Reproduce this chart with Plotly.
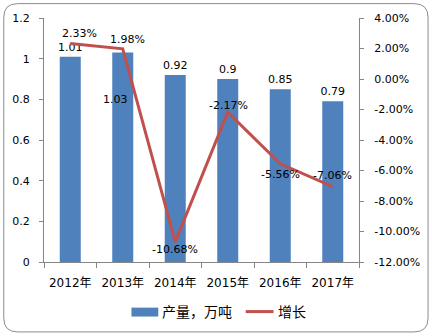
import plotly.graph_objects as go

# Annual output (10k tonnes) and year-on-year growth (%)
years = ["2012年", "2013年", "2014年", "2015年", "2016年", "2017年"]
output = [1.01, 1.03, 0.92, 0.9, 0.85, 0.79]
growth = [2.33, 1.98, -10.68, -2.17, -5.56, -7.06]

left_ticks = [0, 0.2, 0.4, 0.6, 0.8, 1.0, 1.2]
right_ticks = [4, 2, 0, -2, -4, -6, -8, -10, -12]

BAR_COLOR = "#4F81BD"
LINE_COLOR = "#C0504D"
AXIS_COLOR = "#868686"
FONT = "DejaVu Sans, Noto Sans CJK SC, sans-serif"

W, H = 432, 336
ML, MR, MT, MB = 42, 73, 16, 74
PW, PH = W - ML - MR, H - MT - MB


def px_x(p):
    return (p - ML) / PW


def px_y(p):
    return (H - MB - p) / PH


fig = go.Figure()

# Bars; the 2013 value label sits beside its bar, added as an annotation below
bar_text = [f"{v:g}" for v in output]
bar_text[1] = ""
fig.add_trace(go.Bar(
    x=years, y=output, width=0.4, marker=dict(color=BAR_COLOR, line=dict(width=0)),
    text=bar_text, textposition="outside", constraintext="none", cliponaxis=False,
    textfont=dict(family=FONT, size=11, color="#000000"),
    name="产量，万吨", showlegend=False, yaxis="y",
))

fig.add_trace(go.Scatter(
    x=years, y=growth, mode="lines", line=dict(color=LINE_COLOR, width=3),
    name="增长", showlegend=False, yaxis="y2", cliponaxis=False,
))

annotations = []
annotations.append(dict(
    x=years[1], y=0.8, xref="x", yref="y", xshift=-7,
    text=f"{output[1]:g}", showarrow=False,
    font=dict(family=FONT, size=11, color="#000000"),
))

# Growth labels: pixel offsets from each point
growth_label_shift = [(9, 10), (5, 9), (0, -8), (1, 7), (0, -11), (0, 11)]
for yr, g, (dx, dy) in zip(years, growth, growth_label_shift):
    annotations.append(dict(
        x=yr, y=g, xref="x", yref="y2", xshift=dx, yshift=dy,
        text=f"{g:.2f}%", showarrow=False,
        font=dict(family=FONT, size=11, color="#000000"),
    ))

# Legend drawn by hand: bar swatch, line swatch and their labels
legend_y = 312
shapes = [
    dict(type="rect", xref="paper", yref="paper",
         x0=px_x(130), x1=px_x(157), y0=px_y(308), y1=px_y(317),
         fillcolor=BAR_COLOR, line=dict(width=0)),
    dict(type="line", xref="paper", yref="paper",
         x0=px_x(245), x1=px_x(273), y0=px_y(legend_y), y1=px_y(legend_y),
         line=dict(color=LINE_COLOR, width=3)),
]
annotations.append(dict(
    x=px_x(159), y=px_y(legend_y), xref="paper", yref="paper",
    xanchor="left", yanchor="middle", text="产量，万吨", showarrow=False,
    font=dict(family=FONT, size=14, color="#000000"),
))
annotations.append(dict(
    x=px_x(275), y=px_y(legend_y), xref="paper", yref="paper",
    xanchor="left", yanchor="middle", text="增长", showarrow=False,
    font=dict(family=FONT, size=14, color="#000000"),
))

# Rounded outer frame
x0, x1, y0, y1, r = 1.5, 428.5, 1.5, 332.5, 14
frame = (
    f"M {px_x(x0 + r)},{px_y(y0)} L {px_x(x1 - r)},{px_y(y0)} "
    f"Q {px_x(x1)},{px_y(y0)} {px_x(x1)},{px_y(y0 + r)} "
    f"L {px_x(x1)},{px_y(y1 - r)} "
    f"Q {px_x(x1)},{px_y(y1)} {px_x(x1 - r)},{px_y(y1)} "
    f"L {px_x(x0 + r)},{px_y(y1)} "
    f"Q {px_x(x0)},{px_y(y1)} {px_x(x0)},{px_y(y1 - r)} "
    f"L {px_x(x0)},{px_y(y0 + r)} "
    f"Q {px_x(x0)},{px_y(y0)} {px_x(x0 + r)},{px_y(y0)} Z"
)
shapes.append(dict(type="path", xref="paper", yref="paper", path=frame,
                   line=dict(color="#8C8C8C", width=1), layer="below"))

fig.update_layout(
    width=W, height=H,
    margin=dict(l=ML, r=MR, t=MT, b=MB, pad=0),
    paper_bgcolor="#FFFFFF", plot_bgcolor="#FFFFFF",
    showlegend=False,
    font=dict(family=FONT, size=11, color="#000000"),
    xaxis=dict(
        type="category", showline=True, linecolor=AXIS_COLOR, linewidth=1,
        ticks="outside", tickson="boundaries", ticklen=5, tickcolor=AXIS_COLOR,
        ticklabelstandoff=10,
        showgrid=False, tickfont=dict(family=FONT, size=12, color="#000000"),
    ),
    yaxis=dict(
        range=[0, 1.2], tickvals=left_ticks, ticktext=[f"{v:g}" for v in left_ticks],
        showline=True, linecolor=AXIS_COLOR, linewidth=1,
        ticks="outside", ticklen=4, tickcolor=AXIS_COLOR, ticklabelstandoff=7,
        showgrid=False, zeroline=False,
        tickfont=dict(family=FONT, size=11, color="#000000"),
    ),
    yaxis2=dict(
        range=[-12, 4], overlaying="y", side="right",
        tickvals=right_ticks, ticktext=[f"{v:.2f}%" for v in right_ticks],
        showline=True, linecolor=AXIS_COLOR, linewidth=1,
        ticks="outside", ticklen=4, tickcolor=AXIS_COLOR, ticklabelstandoff=8,
        showgrid=False, zeroline=False,
        tickfont=dict(family=FONT, size=11, color="#000000"),
    ),
    bargap=0.6,
    annotations=annotations,
    shapes=shapes,
)

fig.write_html("out.html", config={"displayModeBar": False})
